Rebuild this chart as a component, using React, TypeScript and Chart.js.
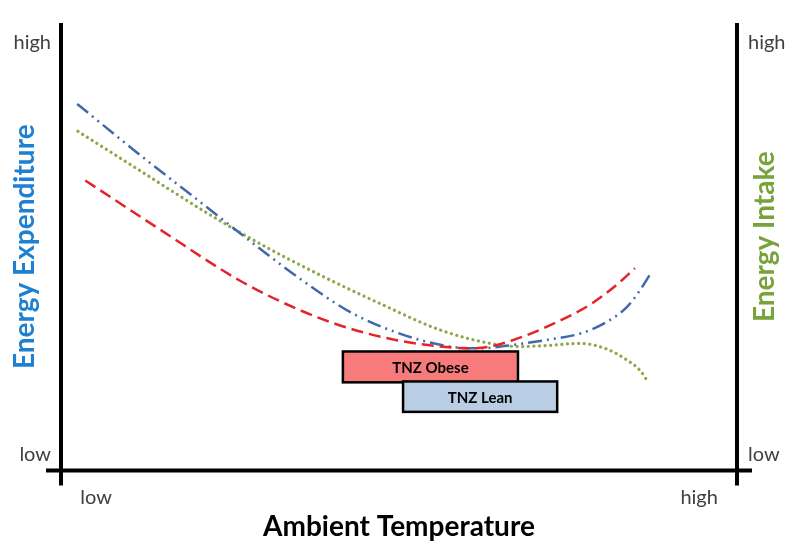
import React, { useEffect, useRef } from "react";
import { Chart, registerables } from "chart.js";

Chart.register(...registerables);

// Ambient temperature (x) vs energy (y), both on a relative 0-100 scale
const blueX = [2.4, 11.7, 20.6, 29.4, 35.4, 42.8, 50.1, 57.5, 62.0, 67.5, 72.3, 76.8, 80.5, 83.7, 85.7, 87.4];
const blueY = [81.9, 70.5, 60.0, 49.6, 42.8, 35.4, 30.6, 27.7, 27.3, 28.2, 29.3, 30.6, 33.0, 36.5, 40.4, 44.5];

const greenX = [2.5, 11.7, 21.0, 29.4, 38.3, 47.2, 56.1, 63.5, 67.9, 71.6, 76.8, 80.8, 83.7, 85.7, 86.7];
const greenY = [75.8, 67.0, 58.1, 50.7, 43.7, 37.3, 31.4, 28.4, 27.7, 27.9, 28.4, 27.1, 24.7, 22.3, 20.1];

const redX = [3.6, 14.6, 26.5, 35.4, 42.8, 50.1, 56.1, 60.5, 63.5, 68.3, 73.4, 78.3, 82.2, 84.9];
const redY = [64.8, 53.9, 42.4, 35.8, 31.7, 29.0, 27.7, 27.3, 27.7, 29.9, 33.2, 37.1, 41.5, 45.2];

// Thermoneutral zones (x range, y range)
const zoneLabels = ["TNZ Obese", "TNZ Lean"];
const zoneXStart = [41.7, 50.6];
const zoneXEnd = [67.6, 73.4];
const zoneYTop = [26.6, 19.9];
const zoneYBottom = [19.7, 13.1];
const zoneColors = ["#F77B7B", "#B9CDE5"];

const xTickValues = [5.2, 94.4];
const xTickLabels = ["low", "high"];
const yTickValues = [3.5, 95.6];
const yTickLabels = ["low", "high"];

const FONT = "Lato";

const framePlugin = {
  id: "frame",
  beforeDatasetsDraw(chart: any) {
    const { ctx, chartArea } = chart;
    const { left, right, top, bottom } = chartArea;
    const ext = 15;
    ctx.save();
    ctx.strokeStyle = "#000";
    ctx.lineWidth = 4;
    ctx.beginPath();
    ctx.moveTo(left, top);
    ctx.lineTo(left, bottom + ext);
    ctx.moveTo(right, top);
    ctx.lineTo(right, bottom + ext);
    ctx.moveTo(left - ext, bottom);
    ctx.lineTo(right + ext, bottom);
    ctx.stroke();
    ctx.restore();
  },
  afterDatasetsDraw(chart: any) {
    const { ctx } = chart;
    const xs = chart.scales.x;
    const ys = chart.scales.y;
    ctx.save();
    zoneLabels.forEach((label, i) => {
      const x1 = xs.getPixelForValue(zoneXStart[i]);
      const x2 = xs.getPixelForValue(zoneXEnd[i]);
      const y1 = ys.getPixelForValue(zoneYTop[i]);
      const y2 = ys.getPixelForValue(zoneYBottom[i]);
      ctx.fillStyle = zoneColors[i];
      ctx.fillRect(x1, y1, x2 - x1, y2 - y1);
      ctx.strokeStyle = "#000";
      ctx.lineWidth = 2.5;
      ctx.strokeRect(x1, y1, x2 - x1, y2 - y1);
      ctx.fillStyle = "#000";
      ctx.font = `bold 15px ${FONT}`;
      ctx.textAlign = "center";
      ctx.textBaseline = "middle";
      ctx.fillText(label, (x1 + x2) / 2, (y1 + y2) / 2 + 1);
    });
    // right axis title (reads bottom to top)
    const y2s = chart.scales.y2;
    ctx.translate(y2s.left + 28, (chart.chartArea.top + chart.chartArea.bottom) / 2 - 10);
    ctx.rotate(-Math.PI / 2);
    ctx.font = `bold 28px ${FONT}`;
    ctx.fillStyle = "#77A33A";
    ctx.textAlign = "center";
    ctx.textBaseline = "middle";
    ctx.fillText("Energy Intake", 0, 0);
    ctx.restore();
  },
};

const pts = (xs: number[], ys: number[]) => xs.map((x, i) => ({ x, y: ys[i] }));

export default function App() {
  const ref = useRef<HTMLCanvasElement | null>(null);
  useEffect(() => {
    document.body.style.margin = "0";
    const canvas = ref.current;
    if (!canvas) return;
    const tickFont = { family: FONT, size: 20 };
    const chart = new Chart(canvas, {
      type: "line",
      data: {
        datasets: [
          {
            label: "Energy Expenditure (obese)",
            data: pts(redX, redY),
            borderColor: "#E3242B",
            borderWidth: 2.5,
            borderDash: [12, 6],
            pointRadius: 0,
            cubicInterpolationMode: "monotone",
            fill: false,
          },
          {
            label: "Energy Expenditure (lean)",
            data: pts(blueX, blueY),
            borderColor: "#3F69A8",
            borderWidth: 2.5,
            borderDash: [14, 5, 2, 5, 2, 5],
            pointRadius: 0,
            cubicInterpolationMode: "monotone",
            fill: false,
          },
          {
            label: "Energy Intake",
            data: pts(greenX, greenY),
            borderColor: "#8CAA4A",
            borderWidth: 3.2,
            borderDash: [0.1, 5.5],
            borderCapStyle: "round",
            pointRadius: 0,
            cubicInterpolationMode: "monotone",
            fill: false,
          },
        ],
      },
      options: {
        responsive: false,
        animation: false,
        layout: { padding: { top: 12, left: 0, right: 0, bottom: 0 } },
        plugins: { legend: { display: false }, tooltip: { enabled: false } },
        scales: {
          x: {
            type: "linear",
            position: "bottom",
            min: 0,
            max: 100,
            afterFit: (s: any) => {
              s.height = 82.5;
            },
            afterBuildTicks: (s: any) => {
              s.ticks = xTickValues.map((v) => ({ value: v }));
            },
            ticks: {
              autoSkip: false,
              maxRotation: 0,
              padding: 15,
              color: "#404040",
              font: tickFont,
              callback: (_v: any, i: number) => xTickLabels[i],
            },
            grid: { display: false, drawTicks: false },
            border: { display: false },
            title: {
              display: true,
              text: "Ambient Temperature",
              color: "#000",
              font: { family: FONT, size: 28, weight: "bold" },
              padding: { top: 0, bottom: 9 },
            },
          },
          y: {
            type: "linear",
            position: "left",
            min: 0,
            max: 100,
            afterFit: (s: any) => {
              s.width = 61;
            },
            afterBuildTicks: (s: any) => {
              s.ticks = yTickValues.map((v) => ({ value: v }));
            },
            ticks: {
              autoSkip: false,
              padding: 10,
              color: "#404040",
              font: tickFont,
              callback: (_v: any, i: number) => yTickLabels[i],
            },
            grid: { display: false, drawTicks: false },
            border: { display: false },
            title: {
              display: true,
              text: "Energy Expenditure",
              color: "#1F80D2",
              font: { family: FONT, size: 28, weight: "bold" },
              padding: { top: 8, bottom: 0 },
            },
          },
          y2: {
            type: "linear",
            position: "right",
            min: 0,
            max: 100,
            afterFit: (s: any) => {
              s.width = 63;
            },
            afterBuildTicks: (s: any) => {
              s.ticks = yTickValues.map((v) => ({ value: v }));
            },
            ticks: {
              autoSkip: false,
              padding: 11,
              color: "#404040",
              font: tickFont,
              callback: (_v: any, i: number) => yTickLabels[i],
            },
            grid: { display: false, drawTicks: false },
            border: { display: false },
          },
        },
      },
      plugins: [framePlugin],
    } as any);
    return () => chart.destroy();
  }, []);
  return <canvas ref={ref} width={800} height={553} />;
}
